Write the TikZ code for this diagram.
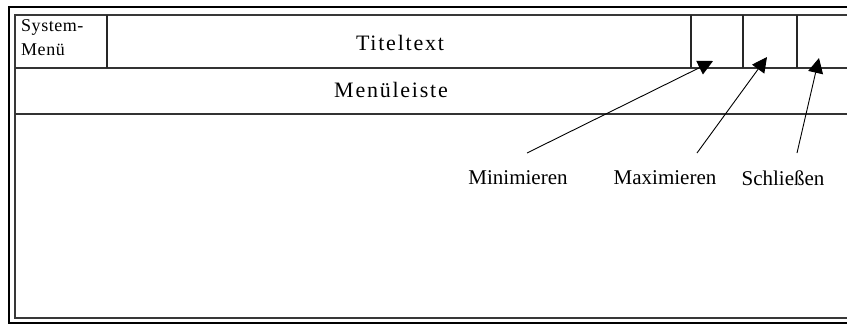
\documentclass[tikz,border=0pt]{standalone}
\usepackage{fontspec}
\setmainfont{Liberation Serif}
\newfontfamily\titlefont[LetterSpace=8]{Liberation Serif}
\newfontfamily\labelfont{Liberation Serif}
\newfontfamily\sysfont[LetterSpace=3]{Liberation Serif}
\usetikzlibrary{arrows.meta}
\begin{document}
\begin{tikzpicture}[x=1pt,y=-1pt,
  outerline/.style={line width=1.4pt,black},
  innerline/.style={line width=2pt,black!78},
  barline/.style={line width=1.6pt,black!80},
  divline/.style={line width=1.4pt,black!85},
  lbl/.style={inner sep=0pt,font=\labelfont\fontsize{21}{23}\selectfont},
  ttl/.style={inner sep=0pt,font=\titlefont\fontsize{22}{24}\selectfont},
  pointer/.style={line width=0.9pt,-{Triangle[length=15pt,width=15pt]}}]
\useasboundingbox (0,0) rectangle (847,325);
% outer frame (open at right)
\draw[outerline] (852,7) -- (9,7) -- (9,323) -- (852,323);
\draw[innerline] (852,15) -- (15,15) -- (15,318) -- (852,318);
% bars
\draw[barline] (15,68) -- (852,68);
\draw[barline] (15,114) -- (852,114);
% dividers
\foreach \x in {107,691,743,797} \draw[divline] (\x,15) -- (\x,68);
% texts
\node[anchor=north west,align=left,inner sep=0pt,
  font=\sysfont\fontsize{18}{24}\selectfont] (sys) at (21,19) {System-\\Menü};
\node[ttl] (title) at (400,43) {Titeltext};
\node[ttl] (menu) at (391,90) {Menüleiste};
\node[lbl] (mini) at (518,178) {Minimieren};
\node[lbl] (maxi) at (665,178) {Maximieren};
\node[lbl] (close) at (783,178) {Schließen};
% arrow endpoints
\coordinate (minis) at (527,153);
\coordinate (minit) at (713,61);
\coordinate (maxis) at (697,153);
\coordinate (maxit) at (767,57);
\coordinate (closes) at (797,153);
\coordinate (closet) at (819,58);
\draw[pointer] (minis) -- (minit);
\draw[pointer] (maxis) -- (maxit);
\draw[pointer] (closes) -- (closet);
\end{tikzpicture}
\end{document}
